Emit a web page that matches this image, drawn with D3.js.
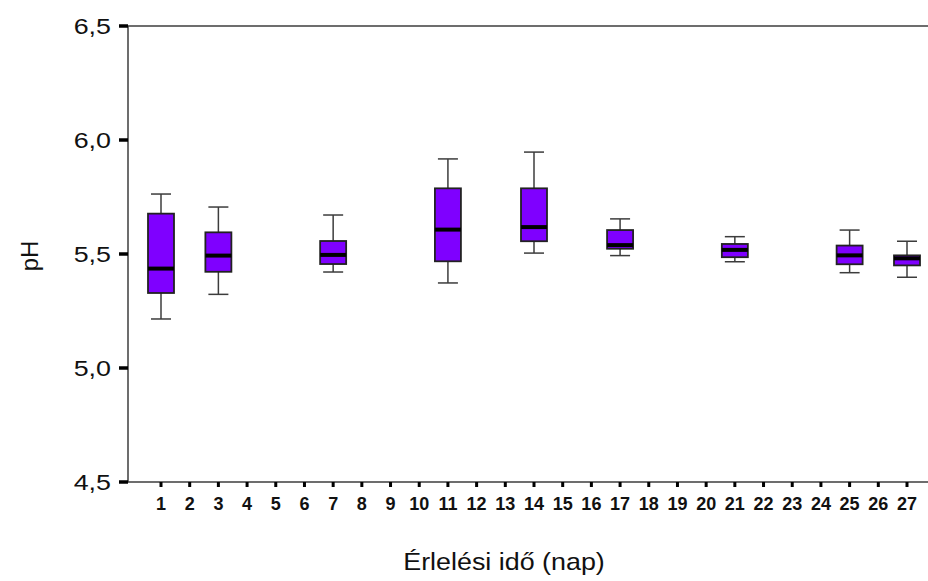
<!DOCTYPE html>
<html>
<head>
<meta charset="utf-8">
<script src="https://cdn.jsdelivr.net/npm/d3@7"></script>
<style>
  body { margin: 0; background: #fff; }
  svg { display: block; font-family: Arial, "Liberation Sans", sans-serif; }
</style>
</head>
<body>
<svg id="chart" width="928" height="581"></svg>
<script>
// x categories (days) and the days that have a box
const dayTicks = d3.range(1, 28);
const days = [1, 3, 7, 11, 14, 17, 21, 25, 27];

// box plot values
const whiskerLow  = [5.215, 5.323, 5.421, 5.373, 5.504, 5.493, 5.466, 5.418, 5.398];
const q1          = [5.329, 5.422, 5.456, 5.468, 5.556, 5.523, 5.486, 5.455, 5.450];
const median      = [5.436, 5.493, 5.496, 5.607, 5.618, 5.539, 5.518, 5.494, 5.481];
const q3          = [5.677, 5.595, 5.557, 5.788, 5.788, 5.605, 5.544, 5.537, 5.494];
const whiskerHigh = [5.763, 5.706, 5.671, 5.917, 5.947, 5.654, 5.576, 5.605, 5.556];

const yTicks = [4.5, 5.0, 5.5, 6.0, 6.5];

let boxes = days.map((d, i) => ({
  day: d, lo: whiskerLow[i], q1: q1[i], med: median[i], q3: q3[i], hi: whiskerHigh[i]
}));

const plotL = 128, plotR = 928, plotT = 26, plotB = 482;

let svg = d3.select('#chart');

let x = d3.scalePoint().domain(dayTicks).range([161, 907]);
let y = d3.scaleLinear().domain([4.5, 6.5]).range([plotB, plotT]);

const boxW = 26, capW = 20;
const axisCol = '#3c3c3c';

// frame lines: left axis, top line, bottom axis
svg.append('line')
  .attr('x1', plotL).attr('x2', plotL).attr('y1', plotT).attr('y2', plotB)
  .attr('stroke', axisCol).attr('stroke-width', 1.5);
svg.append('line')
  .attr('x1', plotL).attr('x2', plotR).attr('y1', plotT).attr('y2', plotT)
  .attr('stroke', axisCol).attr('stroke-width', 1.5);
svg.append('line')
  .attr('x1', plotL).attr('x2', plotR).attr('y1', plotB).attr('y2', plotB)
  .attr('stroke', axisCol).attr('stroke-width', 1.5);

// y ticks
let yt = svg.selectAll('.ytick')
  .data(yTicks)
  .enter().append('g')
  .attr('class', 'ytick')
  .attr('transform', d => 'translate(0,' + y(d) + ')');

yt.append('line')
  .attr('x1', plotL - 9).attr('x2', plotL)
  .attr('stroke', '#000').attr('stroke-width', 3.5);

yt.append('text')
  .attr('transform', 'translate(111,0) scale(1.22,1)')
  .attr('text-anchor', 'end')
  .attr('dy', '0.36em')
  .attr('font-size', 22)
  .attr('fill', '#111')
  .text(d => d3.format('.1f')(d).replace('.', ','));

// x ticks
let xt = svg.selectAll('.xtick')
  .data(dayTicks)
  .enter().append('g')
  .attr('class', 'xtick')
  .attr('transform', d => 'translate(' + x(d) + ',0)');

xt.append('line')
  .attr('y1', plotB).attr('y2', plotB + 5)
  .attr('stroke', '#000').attr('stroke-width', 3);

xt.append('text')
  .attr('y', 510)
  .attr('text-anchor', 'middle')
  .attr('font-size', 18)
  .attr('font-weight', 'bold')
  .attr('fill', '#111')
  .text(d => d);

// boxes
let g = svg.selectAll('.box')
  .data(boxes)
  .enter().append('g')
  .attr('class', 'box')
  .attr('transform', d => 'translate(' + x(d.day) + ',0)');

// whiskers
g.append('line')
  .attr('y1', d => y(d.hi)).attr('y2', d => y(d.q3))
  .attr('stroke', axisCol).attr('stroke-width', 1.5);
g.append('line')
  .attr('y1', d => y(d.q1)).attr('y2', d => y(d.lo))
  .attr('stroke', axisCol).attr('stroke-width', 1.5);
g.append('line')
  .attr('x1', -capW / 2).attr('x2', capW / 2)
  .attr('y1', d => y(d.hi)).attr('y2', d => y(d.hi))
  .attr('stroke', axisCol).attr('stroke-width', 1.5);
g.append('line')
  .attr('x1', -capW / 2).attr('x2', capW / 2)
  .attr('y1', d => y(d.lo)).attr('y2', d => y(d.lo))
  .attr('stroke', axisCol).attr('stroke-width', 1.5);

g.append('rect')
  .attr('x', -boxW / 2).attr('width', boxW)
  .attr('y', d => y(d.q3))
  .attr('height', d => y(d.q1) - y(d.q3))
  .attr('fill', '#7f00ff')
  .attr('stroke', '#222').attr('stroke-width', 1.8);

// median
g.append('line')
  .attr('x1', -boxW / 2).attr('x2', boxW / 2)
  .attr('y1', d => y(d.med)).attr('y2', d => y(d.med))
  .attr('stroke', '#000').attr('stroke-width', 4);

// axis titles
svg.append('text')
  .attr('transform', 'translate(504,570) scale(1.12,1)')
  .attr('text-anchor', 'middle')
  .attr('font-size', 24)
  .attr('fill', '#111')
  .text('Érlelési idő (nap)');

svg.append('text')
  .attr('transform', 'translate(38,256) rotate(-90)')
  .attr('text-anchor', 'middle')
  .attr('font-size', 24)
  .attr('fill', '#111')
  .text('pH');
</script>
</body>
</html>
